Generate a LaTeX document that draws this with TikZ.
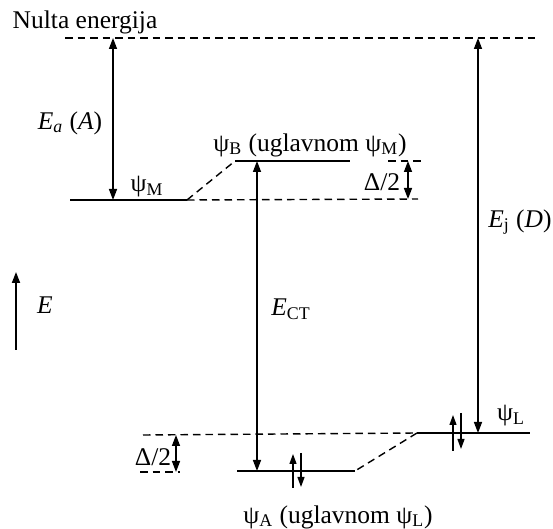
\documentclass[tikz,border=0pt]{standalone}
\usepackage{fontspec}
\setmainfont{Liberation Serif}
\usetikzlibrary{arrows.meta, positioning, calc}

\begin{document}
\begin{tikzpicture}[
    x=0.2mm, y=-0.2mm,
    >={Triangle[length=2.2mm, width=1.6mm]},
    font=\fontsize{14.5}{17}\selectfont,
    level/.style={line width=0.9pt},
    guide/.style={line width=0.8pt, dash pattern=on 1.5mm off 1mm},
    gap/.style={line width=0.8pt, <->},
    spin/.style={line width=0.7pt, -{Triangle[length=2mm, width=1.4mm]}},
    lbl/.style={inner sep=1pt}
    ]
    \useasboundingbox (0,0) rectangle (553,529);

    % --- Razine ---
    \coordinate (zeroL) at (65,38);
    \coordinate (zeroR) at (537,38);
    \coordinate (mL) at (70,200);
    \coordinate (mR) at (187,200);
    \coordinate (mEnd) at (418,199);
    \coordinate (bL) at (235,161);
    \coordinate (bR) at (350,161);
    \coordinate (bDashL) at (388,161);
    \coordinate (bDashR) at (423,161);
    \coordinate (lL) at (417,433);
    \coordinate (lR) at (530,433);
    \coordinate (lStart) at (143,435);
    \coordinate (aL) at (237,471);
    \coordinate (aR) at (355,471);
    \coordinate (aDashL) at (140,472);
    \coordinate (aDashR) at (180,472);

    \draw[guide] (zeroL) -- (zeroR);
    \draw[level] (mL) -- (mR);
    \draw[guide] (mR) -- (bL);
    \draw[guide] (mR) -- (mEnd);
    \draw[level] (bL) -- (bR);
    \draw[guide] (bDashL) -- (bDashR);
    \draw[level] (lL) -- (lR);
    \draw[guide] (lStart) -- (lL);
    \draw[guide] (lL) -- (aR);
    \draw[level] (aL) -- (aR);
    \draw[guide] (aDashL) -- (aDashR);

    % --- Energije ---
    \coordinate (eaTop) at (113,38);
    \coordinate (eaBot) at (113,200);
    \coordinate (ctTop) at (257,161);
    \coordinate (ctBot) at (257,471);
    \coordinate (ejTop) at (478,38);
    \coordinate (ejBot) at (478,433);
    \coordinate (dbTop) at (408,161);
    \coordinate (dbBot) at (408,199);
    \coordinate (daTop) at (176,435);
    \coordinate (daBot) at (176,472);
    \coordinate (eFrom) at (16,350);
    \coordinate (eTo) at (16,272);

    \draw[gap] (eaTop) -- (eaBot);
    \draw[gap] (ctTop) -- (ctBot);
    \draw[gap] (ejTop) -- (ejBot);
    \draw[gap] (dbTop) -- (dbBot);
    \draw[gap] (daTop) -- (daBot);
    \draw[line width=1pt, ->] (eFrom) -- (eTo);

    % --- Elektroni ---
    \coordinate (a1) at (293,488);
    \coordinate (a2) at (293,454);
    \coordinate (a3) at (301,453);
    \coordinate (a4) at (301,487);
    \coordinate (l1) at (453,451);
    \coordinate (l2) at (453,415);
    \coordinate (l3) at (461,413);
    \coordinate (l4) at (461,449);
    \draw[spin] (a1) -- (a2);
    \draw[spin] (a3) -- (a4);
    \draw[spin] (l1) -- (l2);
    \draw[spin] (l3) -- (l4);

    % --- Oznake ---
    \node (zero) [lbl] at (85,22) {Nulta energija};
    \node (ea) [lbl] at (70,123) {\textit{E}\textsubscript{\textit{a}} (\textit{A})};
    \node (psiM) [lbl] at (147,187) {ψ\textsubscript{M}};
    \node (psiB) [lbl] at (310,145) {ψ\textsubscript{B} (uglavnom ψ\textsubscript{M})};
    \node (halfB) [lbl] at (382,182) {Δ/2};
    \node (halfA) [lbl] at (153,457) {Δ/2};
    \node (ect) [lbl] at (291,309) {\textit{E}\textsubscript{CT}};
    \node (ej) [lbl] at (520,222) {\textit{E}\textsubscript{j} (\textit{D})};
    \node (ee) [lbl] at (45,305) {\textit{E}};
    \node (psiL) [lbl] at (511,416) {ψ\textsubscript{L}};
    \node (psiA) [lbl] at (338,517) {ψ\textsubscript{A} (uglavnom ψ\textsubscript{L})};

\end{tikzpicture}
\end{document}
